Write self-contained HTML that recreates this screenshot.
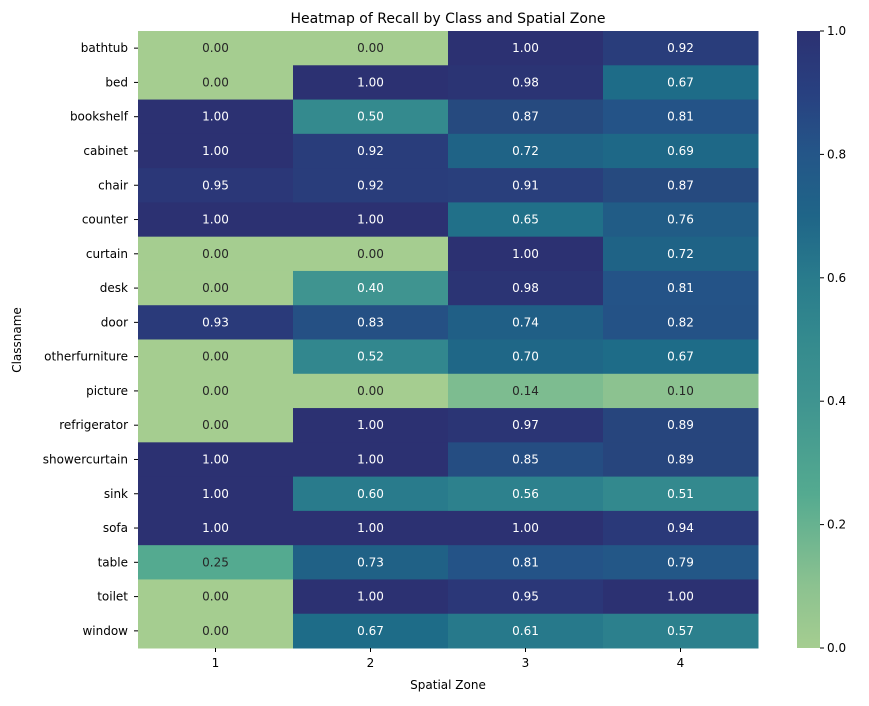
<!DOCTYPE html>
<html><head><meta charset="utf-8"><style>
body{margin:0;background:#fff;font-family:"Liberation Sans","DejaVu Sans",sans-serif;}
svg text{font-family:"DejaVu Sans","Liberation Sans",sans-serif;}
</style></head><body>
<svg id="chart" width="869" height="701" viewBox="0 0 869 701">
<defs><linearGradient id="cb" x1="0" y1="1" x2="0" y2="0">
<stop offset="0" stop-color="#a5cd90"/><stop offset="0.1" stop-color="#8cc290"/><stop offset="0.25" stop-color="#54aa90"/><stop offset="0.4" stop-color="#3f9490"/><stop offset="0.5" stop-color="#348a8e"/><stop offset="0.6" stop-color="#297b8c"/><stop offset="0.7" stop-color="#1f6588"/><stop offset="0.8" stop-color="#245688"/><stop offset="0.9" stop-color="#284080"/><stop offset="1" stop-color="#2c3172"/>
</linearGradient></defs>
<text x="448" y="23" text-anchor="middle" font-size="14">Heatmap of Recall by Class and Spatial Zone</text>
<g id="cells"></g><g id="ylabels"></g><g id="xlabels"></g>
<text x="448" y="689" text-anchor="middle" font-size="12">Spatial Zone</text>
<text x="21" y="340" text-anchor="middle" font-size="12" transform="rotate(-90 21 340)">Classname</text>
<rect x="797" y="31" width="23" height="617" fill="url(#cb)"/>
<g id="cbticks"></g>
</svg>
<script>
const classes=["bathtub","bed","bookshelf","cabinet","chair","counter","curtain","desk","door","otherfurniture","picture","refrigerator","showercurtain","sink","sofa","table","toilet","window"];
const zones=["1","2","3","4"];
const z1=[0,0,1,1,0.95,1,0,0,0.93,0,0,0,1,1,1,0.25,0,0];
const z2=[0,1,0.5,0.92,0.92,1,0,0.4,0.83,0.52,0,1,1,0.6,1,0.73,1,0.67];
const z3=[1,0.98,0.87,0.72,0.91,0.65,1,0.98,0.74,0.7,0.14,0.97,0.85,0.56,1,0.81,0.95,0.61];
const z4=[0.92,0.67,0.81,0.69,0.87,0.76,0.72,0.81,0.82,0.67,0.1,0.89,0.89,0.51,0.94,0.79,1,0.57];
const cbTicks=[0,0.2,0.4,0.6,0.8,1.0];
const series=[z1,z2,z3,z4];
const X0=138,X1=758,Y0=31,Y1=648;
const cw=(X1-X0)/zones.length, rh=(Y1-Y0)/classes.length;
const xs=i=>X0+i*cw, ys=j=>Y0+j*rh;
const stops=[[0,[165,205,144]],[0.1,[140,194,144]],[0.25,[84,170,144]],[0.4,[63,148,144]],[0.5,[52,138,142]],[0.6,[41,123,140]],[0.67,[30,108,136]],[0.72,[31,99,134]],[0.81,[36,83,135]],[0.87,[38,74,127]],[0.93,[42,58,122]],[1,[44,49,114]]];
function col(v){for(let k=1;k<stops.length;k++){if(v<=stops[k][0]){const a=stops[k-1],b=stops[k],t=(v-a[0])/(b[0]-a[0]);return `rgb(${a[1].map((c,i)=>Math.round(c+(b[1][i]-c)*t)).join(',')})`;}}return 'rgb(44,49,114)';}
const NS="http://www.w3.org/2000/svg";
const cells=document.getElementById('cells'),yl=document.getElementById('ylabels'),xl=document.getElementById('xlabels'),cbt=document.getElementById('cbticks');
series.forEach((s,i)=>s.forEach((v,j)=>{
 const r=document.createElementNS(NS,'rect');
 r.setAttribute('x',xs(i));r.setAttribute('y',ys(j));r.setAttribute('width',cw+0.5);r.setAttribute('height',rh+0.5);r.setAttribute('fill',col(v));
 
 
 cells.appendChild(r);
 const t=document.createElementNS(NS,'text');
 t.setAttribute('x',xs(i)+cw/2);t.setAttribute('y',ys(j)+rh/2+4);t.setAttribute('text-anchor','middle');t.setAttribute('font-size','12');
 t.setAttribute('fill',v>0.3?'#fff':'#262626');t.textContent=v.toFixed(2);
 
 
 cells.appendChild(t);
}));
classes.forEach((c,j)=>{
 const t=document.createElementNS(NS,'text');
 t.setAttribute('x',X0-10);t.setAttribute('y',ys(j)+rh/2+4);t.setAttribute('text-anchor','end');t.setAttribute('font-size','12');t.textContent=c;
 
 
 yl.appendChild(t);
 const l=document.createElementNS(NS,'line');
 l.setAttribute('x1',X0-4);l.setAttribute('x2',X0);l.setAttribute('y1',ys(j)+rh/2);l.setAttribute('y2',ys(j)+rh/2);l.setAttribute('stroke','#000');
 
 
 yl.appendChild(l);
});
zones.forEach((z,i)=>{
 const t=document.createElementNS(NS,'text');
 t.setAttribute('x',xs(i)+cw/2);t.setAttribute('y',Y1+19);t.setAttribute('text-anchor','middle');t.setAttribute('font-size','12');t.textContent=z;
 
 
 xl.appendChild(t);
 const l=document.createElementNS(NS,'line');
 l.setAttribute('x1',xs(i)+cw/2);l.setAttribute('x2',xs(i)+cw/2);l.setAttribute('y1',Y1);l.setAttribute('y2',Y1+4);l.setAttribute('stroke','#000');
 
 
 xl.appendChild(l);
});
cbTicks.forEach(v=>{
 const y=Y1-v*(Y1-Y0);
 const l=document.createElementNS(NS,'line');
 l.setAttribute('x1',820);l.setAttribute('x2',824);l.setAttribute('y1',y);l.setAttribute('y2',y);l.setAttribute('stroke','#000');
 
 
 cbt.appendChild(l);
 const t=document.createElementNS(NS,'text');
 t.setAttribute('x',827);t.setAttribute('y',y+4);t.setAttribute('font-size','12');t.textContent=v.toFixed(1);
 
 
 cbt.appendChild(t);
});
</script>
</body></html>
